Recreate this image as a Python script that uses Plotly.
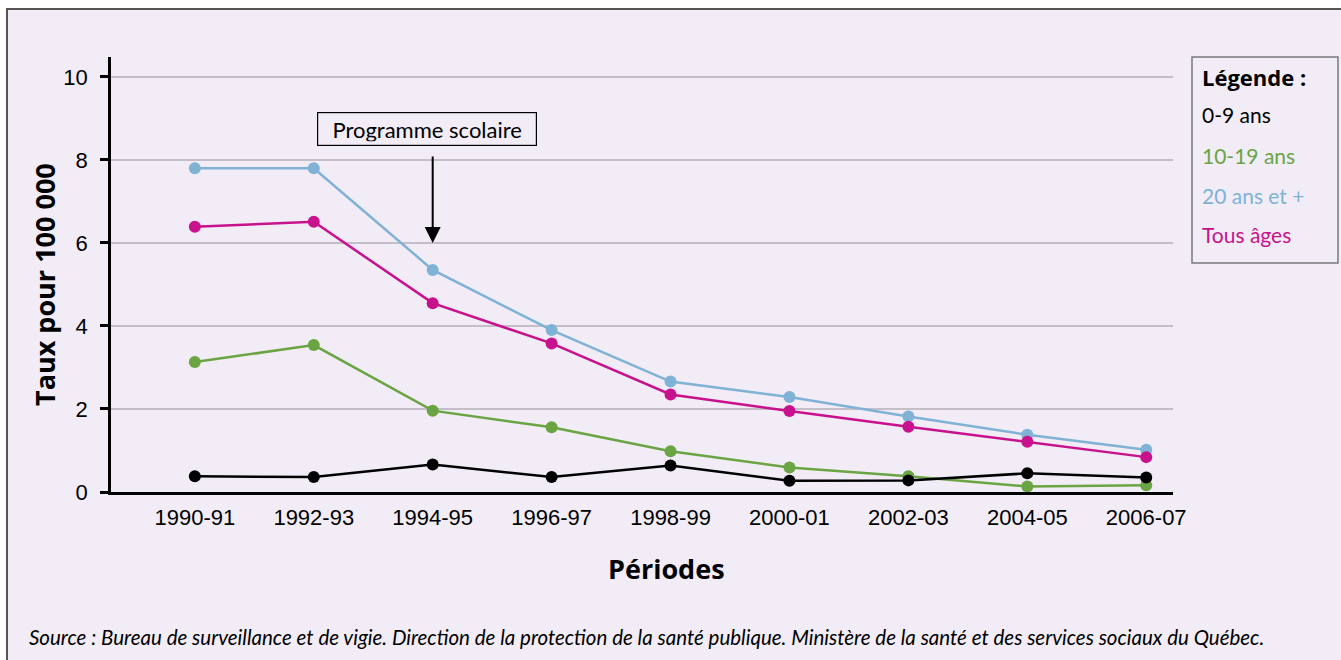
import plotly.graph_objects as go

periods = ["1990-91", "1992-93", "1994-95", "1996-97", "1998-99",
           "2000-01", "2002-03", "2004-05", "2006-07"]
age_0_9 = [0.38, 0.36, 0.66, 0.36, 0.64, 0.27, 0.28, 0.45, 0.35]
age_10_19 = [3.13, 3.54, 1.96, 1.56, 0.98, 0.59, 0.38, 0.13, 0.16]
age_20_plus = [7.80, 7.80, 5.35, 3.90, 2.66, 2.29, 1.82, 1.38, 1.02]
tous_ages = [6.39, 6.51, 4.55, 3.58, 2.35, 1.95, 1.57, 1.21, 0.84]
y_ticks = [0, 2, 4, 6, 8, 10]

series = [
    ("0-9 ans", age_0_9, "#000000"),
    ("10-19 ans", age_10_19, "#6aa443"),
    ("20 ans et +", age_20_plus, "#7fb2d5"),
    ("Tous âges", tous_ages, "#c8118c"),
]

W, H = 1341, 660
L, R, T, B = 111, 1173, 57, 492  # plot area pixels
BG = "#f1ecf6"


def px(x):
    return (x - L) / (R - L)


def py(y):
    return (B - y) / (B - T)


fig = go.Figure()
# draw order: blue, pink, green, black on top
for name, vals, col in [series[2], series[3], series[1], series[0]]:
    fig.add_trace(go.Scatter(
        x=list(range(len(periods))), y=vals, name=name, mode="lines+markers",
        line=dict(color=col, width=2.5),
        marker=dict(color=col, size=12),
        showlegend=False, cliponaxis=False,
    ))

fig.update_layout(
    width=W, height=H,
    margin=dict(l=L, r=W - R, t=T, b=H - B, pad=0),
    paper_bgcolor="white",
    plot_bgcolor="rgba(0,0,0,0)",
    showlegend=False,
    font=dict(family="Liberation Sans, Arial", color="black"),
)

x0 = -0.705
x1 = 8.225
fig.update_xaxes(
    range=[x0, x1], tickmode="array",
    tickvals=list(range(len(periods))), ticktext=periods,
    showgrid=False, zeroline=False,
    showline=True, linecolor="black", linewidth=2.5,
    ticks="", tickfont=dict(size=22, family="Liberation Sans, Arial"),
    ticklabelstandoff=4,
)
fig.update_yaxes(
    range=[0, 10.48], tickmode="array", tickvals=y_ticks,
    showgrid=True, gridcolor="#c3bec8", gridwidth=2,
    zeroline=False, showline=True, linecolor="black", linewidth=2.5,
    ticks="outside", ticklen=8, tickwidth=2.5, tickcolor="black",
    tickfont=dict(size=22, family="Liberation Sans, Arial"),
    ticklabelstandoff=8,
)

# background panel with border
fig.add_shape(type="rect", xref="paper", yref="paper",
              x0=px(7), x1=px(1346), y0=py(9), y1=py(665),
              fillcolor=BG, line=dict(color="#555555", width=2), layer="below")

# legend box
fig.add_shape(type="rect", xref="paper", yref="paper",
              x0=px(1192), x1=px(1338), y0=py(57), y1=py(263),
              fillcolor=BG, line=dict(color="#777777", width=1.5), layer="above")

gill = "Lato, Liberation Sans"
bold = "Open Sans, Liberation Sans"
fig.add_annotation(xref="paper", yref="paper", x=px(1200), y=py(77),
                   text="<b>Légende :</b>", showarrow=False, xanchor="left", yanchor="middle",
                   font=dict(family=bold, size=22, color="black"))
for (name, _, col), yy in zip(series, [115, 155, 195, 235]):
    fig.add_annotation(xref="paper", yref="paper", x=px(1200), y=py(yy),
                       text=name, showarrow=False, xanchor="left", yanchor="middle",
                       font=dict(family=gill, size=21, color=col))

# Programme scolaire box + arrow
fig.add_annotation(xref="paper", yref="paper", x=px(427), y=py(129),
                   text="Programme scolaire", showarrow=False,
                   xanchor="center", yanchor="middle",
                   font=dict(family=gill, size=22, color="black"),
                   bordercolor="black", borderwidth=1.2, borderpad=4,
                   bgcolor=BG, width=210, height=24)
fig.add_annotation(x=2, y=6.0, xref="x", yref="y", text="",
                   showarrow=True, ax=0, ay=-88, axref="pixel", ayref="pixel",
                   arrowhead=2, arrowsize=1.6, arrowwidth=2, arrowcolor="black",
                   standoff=0, startstandoff=0)

# axis titles
fig.add_annotation(xref="paper", yref="paper", x=px(44), y=py(285),
                   text="<b>Taux pour 100 000</b>", textangle=-90, showarrow=False,
                   xanchor="center", yanchor="middle",
                   font=dict(family=bold, size=27, color="black"))
fig.add_annotation(xref="paper", yref="paper", x=px(666), y=py(568),
                   text="<b>Périodes</b>", showarrow=False,
                   xanchor="center", yanchor="middle",
                   font=dict(family=bold, size=27, color="black"))
fig.add_annotation(xref="paper", yref="paper", x=px(27), y=py(637),
                   text="<i>Source : Bureau de surveillance et de vigie. Direction de la protection de la santé publique. "
                        "Ministère de la santé et des services sociaux du Québec.</i>",
                   showarrow=False, xanchor="left", yanchor="middle",
                   font=dict(family=gill, size=20.5, color="black"))

fig.write_html("out.html", config={"displayModeBar": False},
               post_script="document.body.style.margin='0';document.body.style.overflow='hidden';")
